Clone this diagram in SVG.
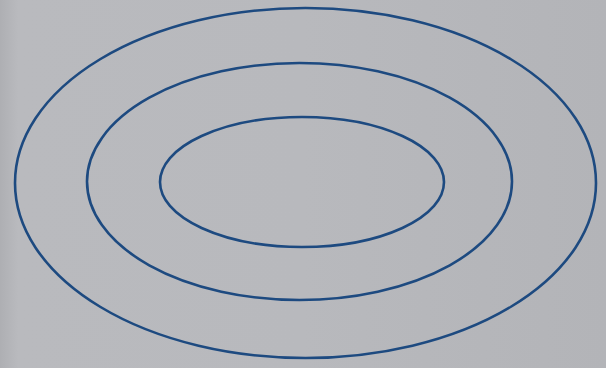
<svg xmlns="http://www.w3.org/2000/svg" width="606" height="368" viewBox="0 0 606 368">
<defs>
<style>
.ring{fill:none;stroke:#1d4a80;stroke-width:2.6}
</style>
<linearGradient id="bg" x1="0" y1="0" x2="1" y2="0">
<stop offset="0" stop-color="#aeafb3"/>
<stop offset="0.03" stop-color="#b9babe"/>
<stop offset="0.5" stop-color="#b8b9bd"/>
<stop offset="1" stop-color="#b3b4b8"/>
</linearGradient>
</defs>
<rect width="606" height="368" fill="url(#bg)"/>
<g id="outer"><ellipse class="ring" cx="305.5" cy="183" rx="290.5" ry="175"/></g>
<g id="middle"><ellipse class="ring" cx="299.5" cy="181.5" rx="212.5" ry="118.5"/></g>
<g id="inner"><ellipse class="ring" cx="302" cy="182" rx="142" ry="65"/></g>
</svg>
